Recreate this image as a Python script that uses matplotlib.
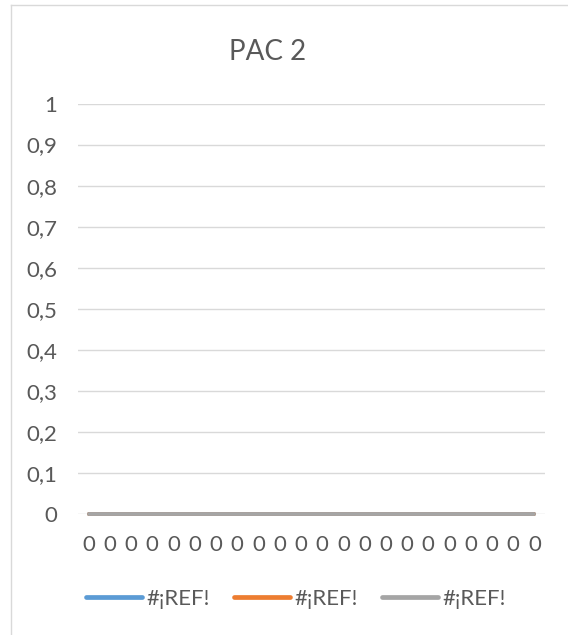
import matplotlib
matplotlib.use("Agg")
import matplotlib.pyplot as plt
from matplotlib.lines import Line2D
from matplotlib.ticker import FuncFormatter

plt.rcParams['font.family'] = ['Lato', 'DejaVu Sans']

# Data
categories = ["0"] * 22
series_names = ["#¡REF!", "#¡REF!", "#¡REF!"]
series_values = [
    [0] * 22,
    [0] * 22,
    [0] * 22,
]
series_colors = ["#5B9BD5", "#ED7D31", "#A5A5A5"]
y_ticks = [0, 0.1, 0.2, 0.3, 0.4, 0.5, 0.6, 0.7, 0.8, 0.9, 1]
title = "PAC 2"

W, H = 568, 635
fig = plt.figure(figsize=(W / 100, H / 100), dpi=100)

# Plot area in pixel coordinates
left, right, top, bottom = 78, 545, 103.5, 514
ax = fig.add_axes([left / W, 1 - bottom / H, (right - left) / W, (bottom - top) / H])

text_color = "#595959"
grid_color = "#D9D9D9"
fs = 16

x = list(range(len(categories)))
for name, vals, col in zip(series_names, series_values, series_colors):
    ax.plot(x, vals, color=col, lw=2.8, solid_capstyle="round", label=name, zorder=3,
            clip_on=False)

ax.set_xlim(-0.5, len(categories) - 0.5)
ax.set_ylim(0, 1)
ax.set_yticks(y_ticks)
ax.yaxis.set_major_formatter(FuncFormatter(lambda v, p: f"{v:g}".replace(".", ",")))
ax.set_xticks(x)
ax.set_xticklabels(categories)

for s in ax.spines.values():
    s.set_visible(False)
ax.grid(axis="y", color=grid_color, lw=1.0, zorder=0)
ax.set_axisbelow(True)
ax.tick_params(axis="both", length=0, labelsize=fs, colors=text_color)
ax.tick_params(axis="x", pad=15)
ax.tick_params(axis="y", pad=15)

fig.text(268 / W, 1 - 52 / H, title, ha="center", va="center", fontsize=20, color=text_color)

leg = fig.legend(loc="center", bbox_to_anchor=(296 / W, 1 - 599 / H), ncol=3, frameon=False,
                 fontsize=fs, handlelength=2.5, handletextpad=0.2, columnspacing=1.1,
                 labelcolor=text_color)
for h in leg.get_lines():
    h.set_linewidth(3.4)
    h.set_solid_capstyle("round")

# Chart area border (left and top edges)
fig.add_artist(Line2D([10.5 / W, 10.5 / W], [0, 1 - 4.5 / H], color=grid_color, lw=1.0,
                      transform=fig.transFigure))
fig.add_artist(Line2D([10.5 / W, 1], [1 - 4.5 / H, 1 - 4.5 / H], color=grid_color, lw=1.0,
                      transform=fig.transFigure))

fig.savefig("out.png", dpi=100, facecolor="white")
